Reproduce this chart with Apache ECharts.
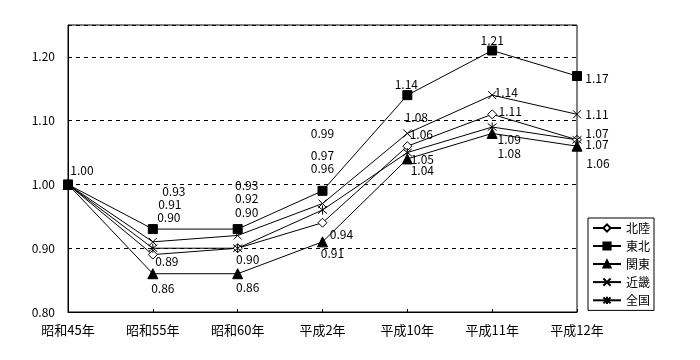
<!DOCTYPE html>
<html><head><meta charset="utf-8">
<script src="https://cdn.jsdelivr.net/npm/echarts@6/dist/echarts.min.js"></script>
<style>html,body{margin:0;padding:0;background:#fff}#c{width:700px;height:360px}</style>
</head><body><div id="c"></div>
<script>
const categories = ['昭和45年','昭和55年','昭和60年','平成2年','平成10年','平成11年','平成12年'];
const hokuriku = [1.00, 0.89, 0.90, 0.94, 1.06, 1.11, 1.07];
const tohoku   = [1.00, 0.93, 0.93, 0.99, 1.14, 1.21, 1.17];
const kanto    = [1.00, 0.86, 0.86, 0.91, 1.04, 1.08, 1.06];
const kinki    = [1.00, 0.91, 0.92, 0.97, 1.08, 1.14, 1.11];
const zenkoku  = [1.00, 0.90, 0.90, 0.96, 1.05, 1.09, 1.07];
const seriesNames = ['北陸','東北','関東','近畿','全国'];
const yTicks = [0.80, 0.90, 1.00, 1.10, 1.20];

// label offsets (style only)
const offHokuriku = [[14,-14],[14,7],[10,11],[19,12],[14,-12],[18,-3],[20,5]];
const offTohoku   = [null,[21,-38],[9,-44],[0,-57],[-1,-11],[0,-10],[20,2]];
const offKanto    = [null,[10,15],[10,14],[10,12],[15,12],[17,20],[21,17]];
const offKinki    = [null,[17,-37],[9,-37],[0,-48],[9,-16],[14,-3],[20,0]];
const offZenkoku  = [null,[16,-31],[9,-36],[0,-42],[15,7],[17,12],[20,-6]];

const FONT = '"Noto Sans CJK JP", sans-serif';
const xMark = 'path://M0,0L10,10M10,0L0,10';
const star = 'path://M5,0L5,10M1,1L9,9M9,1L1,9';

function mk(name, vals, offs, symbol, size, fill) {
  return {
    name, type: 'line', symbol, symbolSize: size,
    lineStyle: {color: '#000', width: 1},
    itemStyle: {color: fill, borderColor: '#000', borderWidth: 1},
    emphasis: {disabled: true},
    z: 3,
    data: vals.map((v, i) => {
      const o = offs[i];
      return {
        value: v,
        label: o ? {show: true, position: 'inside', offset: o} : {show: false}
      };
    }),
    label: {
      color: '#000', fontSize: 12, fontFamily: FONT,
      align: 'center', verticalAlign: 'middle',
      formatter: p => p.value.toFixed(2)
    }
  };
}

const chart = echarts.init(document.getElementById('c'), null, {renderer: 'canvas'});
chart.setOption({
  animation: false,
  backgroundColor: '#fff',
  textStyle: {fontFamily: FONT, color: '#000'},
  grid: {left: 68, right: 123, top: 25, bottom: 48, show: true, borderColor: '#000', borderWidth: 1},
  legend: {
    orient: 'vertical', left: 588, top: 218,
    data: seriesNames,
    itemWidth: 28, itemHeight: 9, itemGap: 6,
    borderColor: '#000', borderWidth: 1, padding: [4, 4, 4, 4],
    textStyle: {fontSize: 12, fontFamily: FONT, color: '#000'}
  },
  xAxis: {
    type: 'category', data: categories, boundaryGap: false,
    axisLine: {lineStyle: {color: '#000', width: 1}},
    axisTick: {inside: true, length: 3, lineStyle: {color: '#000'}},
    axisLabel: {color: '#000', fontSize: 13, fontFamily: FONT, margin: 12},
    splitLine: {show: false}
  },
  yAxis: {
    type: 'value', min: 0.8, max: 1.25, interval: 0.1,
    axisLine: {show: true, lineStyle: {color: '#000', width: 1}},
    axisTick: {show: false},
    axisLabel: {color: '#000', fontSize: 12, fontFamily: FONT, margin: 13,
      formatter: v => yTicks.some(t => Math.abs(t - v) < 1e-6) ? v.toFixed(2) : ''},
    splitLine: {show: true, lineStyle: {color: '#000', type: [4, 4], width: 1}}
  },
  series: [
    mk('北陸', hokuriku, offHokuriku, 'diamond', 9, '#fff'),
    mk('東北', tohoku, offTohoku, 'rect', 9, '#000'),
    mk('関東', kanto, offKanto, 'triangle', 10, '#000'),
    mk('近畿', kinki, offKinki, xMark, 8, 'none'),
    mk('全国', zenkoku, offZenkoku, star, 9, 'none')
  ]
});
</script></body></html>
